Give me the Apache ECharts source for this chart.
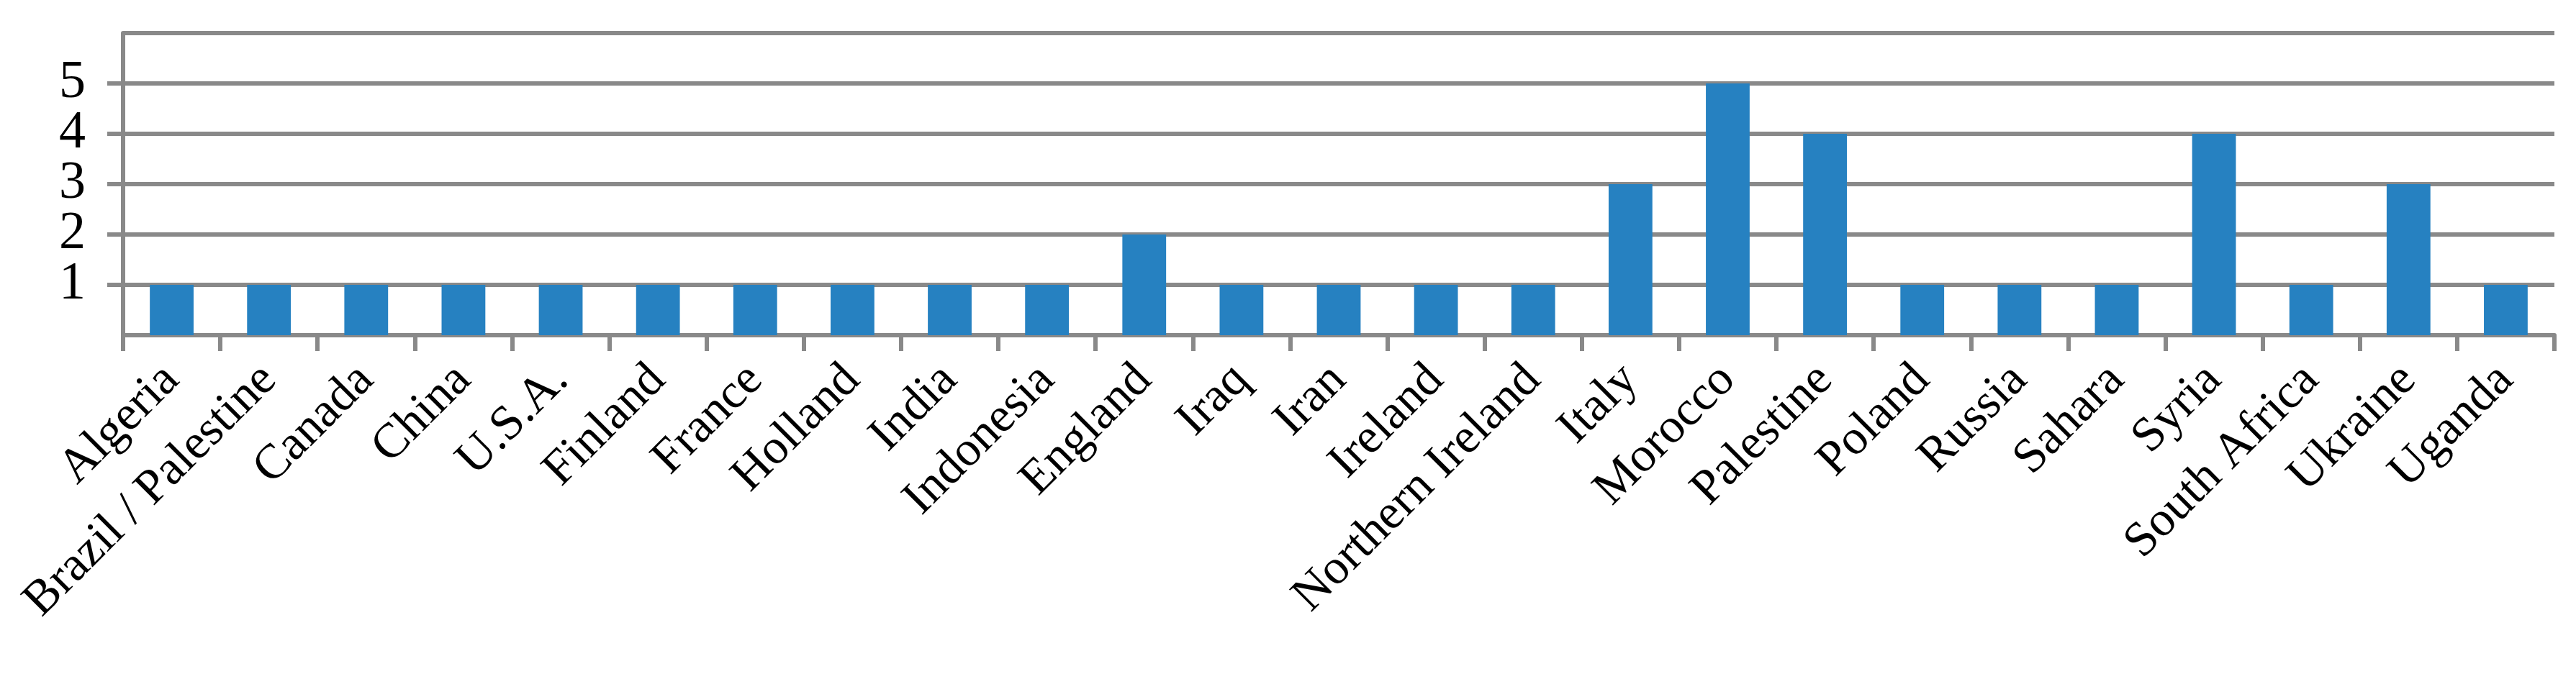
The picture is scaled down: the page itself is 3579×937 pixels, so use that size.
<!DOCTYPE html>
<html><head><meta charset="utf-8">
<script src="https://cdn.jsdelivr.net/npm/echarts@6/dist/echarts.min.js"></script>
<style>html,body{margin:0;padding:0;background:#fff}#c{width:3579px;height:937px}</style>
</head><body><div id="c"></div>
<script>
const categories = ["Algeria","Brazil / Palestine","Canada","China","U.S.A.","Finland","France","Holland","India","Indonesia","England","Iraq","Iran","Ireland","Northern Ireland","Italy","Morocco","Palestine","Poland","Russia","Sahara","Syria","South Africa","Ukraine","Uganda"];
const values = [1,1,1,1,1,1,1,1,1,1,2,1,1,1,1,3,5,4,1,1,1,4,1,3,1];
const chart = echarts.init(document.getElementById('c'));
const gray = '#898989';
const font = '"Liberation Serif","DejaVu Serif",serif';
chart.setOption({
  animation:false,
  grid:{left:171,right:30,top:46,bottom:471,containLabel:false},
  xAxis:{type:'category',data:categories,boundaryGap:true,
    axisLine:{lineStyle:{color:gray,width:6}},
    axisTick:{show:true,length:22,lineStyle:{color:gray,width:6}},
    axisLabel:{rotate:45,interval:0,margin:52,color:'#000',fontFamily:font,fontSize:68}},
  yAxis:{type:'value',min:0,max:6,interval:1,
    axisLine:{show:true,lineStyle:{color:gray,width:6}},
    axisTick:{show:true,length:22,lineStyle:{color:gray,width:6}},
    splitLine:{lineStyle:{color:gray,width:6}},
    axisLabel:{margin:52,color:'#000',fontFamily:font,fontSize:74}},
  series:[{type:'bar',data:values,barWidth:'45%',itemStyle:{color:'#2681c1'}}]
});
</script></body></html>
